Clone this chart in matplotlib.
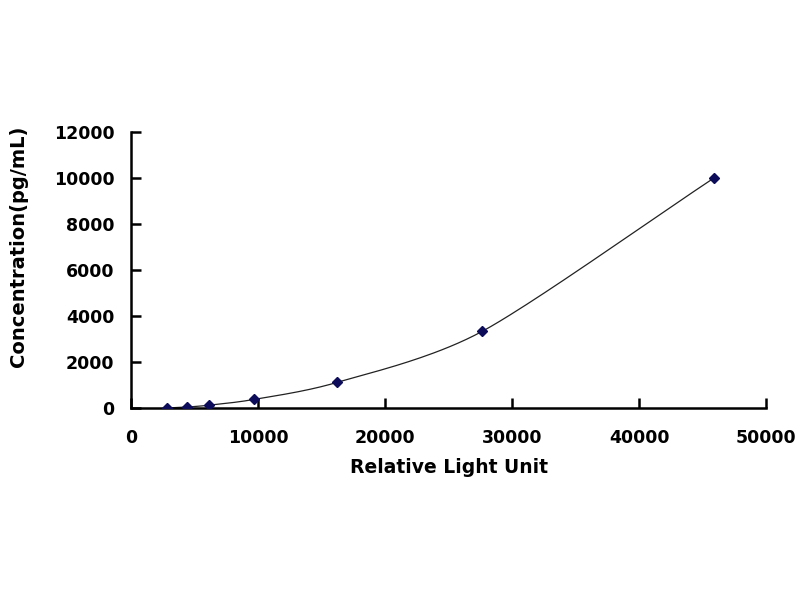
import numpy as np
import matplotlib
matplotlib.use("Agg")
import matplotlib.pyplot as plt

rlu = [2800, 4400, 6150, 9650, 16200, 27650, 45900]
conc = [0, 41.2, 123.5, 370.4, 1111.1, 3333.3, 10000]
x_ticks = [0, 10000, 20000, 30000, 40000, 50000]
y_ticks = [0, 2000, 4000, 6000, 8000, 10000, 12000]

def smooth(xs, ys, n=40):
    xs = np.asarray(xs, float); ys = np.asarray(ys, float)
    px = np.concatenate([[2*xs[0]-xs[1]], xs, [2*xs[-1]-xs[-2]]])
    py = np.concatenate([[2*ys[0]-ys[1]], ys, [2*ys[-1]-ys[-2]]])
    ox, oy = [], []
    for i in range(1, len(px)-2):
        t = np.linspace(0, 1, n)
        p0, p1, p2, p3 = [np.array([px[j], py[j]]) for j in (i-1, i, i+1, i+2)]
        m1 = (p2 - p0) / 2 * 0.8
        m2 = (p3 - p1) / 2 * 0.8
        h00 = 2*t**3 - 3*t**2 + 1; h10 = t**3 - 2*t**2 + t
        h01 = -2*t**3 + 3*t**2; h11 = t**3 - t**2
        pts = np.outer(h00, p1) + np.outer(h10, m1) + np.outer(h01, p2) + np.outer(h11, m2)
        ox.extend(pts[:, 0]); oy.extend(pts[:, 1])
    return ox, oy

plt.rcParams['font.family'] = ['DejaVu Sans']
fig = plt.figure(figsize=(8, 6), dpi=100)
ax = fig.add_axes([0.164, 0.32, 0.7935, 0.46])

sx, sy = smooth(rlu, conc)
ax.plot(sx, sy, color='#222222', lw=0.9, zorder=2)
ax.plot(rlu, conc, linestyle='none', marker='D', ms=5, color='#0c0c5a', zorder=3)

ax.set_xlim(0, 50000)
ax.set_ylim(0, 12000)
ax.set_xticks(x_ticks)
ax.set_yticks(y_ticks)
ax.set_xticklabels([str(v) for v in x_ticks], fontsize=12.5, fontweight='bold')
ax.set_yticklabels([str(v) for v in y_ticks], fontsize=12.5, fontweight='bold')
ax.spines['top'].set_visible(False)
ax.spines['right'].set_visible(False)
for s in ('left', 'bottom'):
    ax.spines[s].set_linewidth(1.8)
ax.tick_params(axis='both', direction='in', length=7, width=1.8)
ax.tick_params(axis='x', pad=15)
ax.tick_params(axis='y', pad=12)
ax.set_xlabel('Relative Light Unit', fontsize=13.5, fontweight='bold', labelpad=8)
ax.set_ylabel('Concentration(pg/mL)', fontsize=14, fontweight='bold')
ax.yaxis.set_label_coords(-0.162, 0.587)

fig.savefig('out.png', dpi=100)
